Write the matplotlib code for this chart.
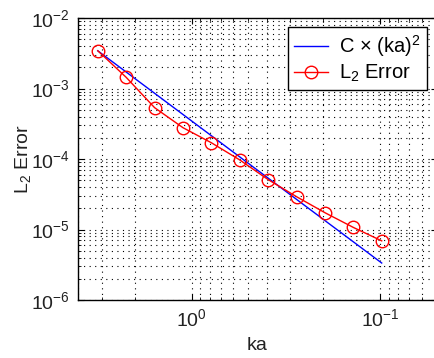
import numpy as np
import matplotlib
matplotlib.use("Agg")
import matplotlib.pyplot as plt

# Non-dimensional wavenumber ka, halved by sqrt(2) each refinement step
ka = [3.1416, 2.2214, 1.5708, 1.1107, 0.7854, 0.5554, 0.3927,
      0.2777, 0.1963, 0.1388, 0.0982]
# Measured L2 error at each ka
l2_error = [3.43e-3, 1.44e-3, 5.35e-4, 2.78e-4, 1.70e-4, 9.7e-5,
            5.1e-5, 2.92e-5, 1.73e-5, 1.07e-5, 6.9e-6]
# Reference second-order slope constant
C = 3.47e-4

plt.rcParams['font.family'] = ['Liberation Sans', 'DejaVu Sans']
plt.rcParams['mathtext.fontset'] = 'custom'
plt.rcParams['mathtext.rm'] = 'Liberation Sans'
plt.rcParams['mathtext.it'] = 'Liberation Sans:italic'

W, H = 434, 358
fig = plt.figure(figsize=(W / 100, H / 100), dpi=100)
left, right, top, bottom = 78, 437, 18, 300
ax = fig.add_axes([left / W, (H - bottom) / H, (right - left) / W, (bottom - top) / H])

ka_arr = np.array(ka)
ax.loglog(ka_arr, C * ka_arr ** 2, color='#0000ff', lw=1.0, label=r'C × (ka)$^2$')
ax.loglog(ka, l2_error, color='#ff0000', lw=1.0, marker='o', ms=9,
          mfc='none', mec='#ff0000', mew=1.0, label=r'L$_2$ Error')

ax.set_xlim(4, 0.05)
ax.set_ylim(1e-6, 1e-2)

ax.grid(True, which='both', color='k', linestyle=(0, (1, 4)), linewidth=0.8)
ax.tick_params(which='both', direction='in', top=True, right=True,
               labelsize=14, labelcolor='#222222', color='k')
ax.tick_params(which='major', length=4, pad=6)
ax.tick_params(which='minor', length=2)
for s in ax.spines.values():
    s.set_linewidth(1.0)
    s.set_color('k')

ax.set_xlabel('ka', fontsize=14, color='#222222', labelpad=5)
ax.set_ylabel(r'L$_2$ Error', fontsize=14, color='#222222', labelpad=-2)

leg = ax.legend(loc='upper right', bbox_to_anchor=(0.972, 0.968), borderaxespad=0,
                fancybox=False, framealpha=1, edgecolor='k', fontsize=14.5,
                handlelength=1.7, handletextpad=0.55, borderpad=0.3,
                labelspacing=0.2)
leg.get_frame().set_linewidth(1.0)

fig.savefig('out.png', dpi=100)
